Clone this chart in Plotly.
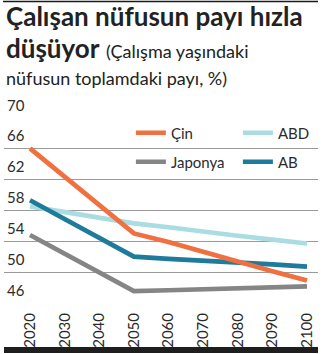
import plotly.graph_objects as go

# Share of working-age population in total population (%)
years = [2020, 2050, 2060, 2070, 2080, 2090, 2100]
cin = [66.0, 55.0, 53.9, 52.6, 51.35, 50.1, 48.9]
abd = [58.5, 56.3, 55.8, 55.2, 54.7, 54.2, 53.7]
japonya = [54.8, 47.55, 47.65, 47.75, 47.9, 48.0, 48.15]
ab = [59.3, 52.0, 51.7, 51.5, 51.2, 51.0, 50.7]

x_ticks = [2020, 2030, 2040, 2050, 2060, 2070, 2080, 2090, 2100]
y_ticks = [46, 50, 54, 58, 62, 66, 70]

W, H = 324, 354
FONT = "Lato"
TXT = "#2b2b2b"

series = [
    ("Japonya", japonya, "#858585", "legend2"),
    ("ABD", abd, "#a9dde2", "legend"),
    ("AB", ab, "#1f7b9b", "legend2"),
    ("Çin", cin, "#f0703f", "legend"),
]

fig = go.Figure()
for name, vals, color, leg in series:
    fig.add_trace(go.Scatter(
        x=years, y=vals, name=name, mode="lines",
        line=dict(color=color, width=4.7),
        legend=leg,
    ))

# y tick labels sit above their gridlines at the left edge
annotations = [
    dict(x=0.014, xref="paper", y=v, yref="y", text=str(v), showarrow=False,
         xanchor="left", yanchor="bottom", yshift=2,
         font=dict(family=FONT, size=15, color=TXT))
    for v in y_ticks
]

# title block
annotations += [
    dict(x=0.012, y=1 - 34 / H, xref="paper", yref="paper", xanchor="left",
         yanchor="bottom", showarrow=False,
         text="<b>Çalışan nüfusun payı hızla</b>",
         font=dict(family=FONT, size=26, color="#222222")),
    dict(x=0.012, y=1 - 66 / H, xref="paper", yref="paper", xanchor="left",
         yanchor="bottom", showarrow=False,
         text="<b>düşüyor</b> <span style='font-size:18px'>(Çalışma yaşındaki</span>",
         font=dict(family=FONT, size=26, color="#222222")),
    dict(x=0.012, y=1 - 91 / H, xref="paper", yref="paper", xanchor="left",
         yanchor="bottom", showarrow=False,
         text="nüfusun toplamdaki payı, %)",
         font=dict(family=FONT, size=18, color="#222222")),
]

shapes = [
    # rule across the top
    dict(type="line", xref="paper", yref="paper", x0=3 / W, x1=318 / W,
         y0=1 - 1.5 / H, y1=1 - 1.5 / H, line=dict(color="#1a1a1a", width=1.3)),
    # dark band at the bottom
    dict(type="rect", xref="paper", yref="paper", x0=4 / W, x1=318 / W,
         y0=1 / H, y1=7 / H, fillcolor="#1e1e1e", line=dict(width=0)),
]

legend_common = dict(
    orientation="h", xanchor="left", yanchor="middle",
    entrywidth=62, entrywidthmode="pixels",
    font=dict(family=FONT, size=15, color=TXT),
    bgcolor="rgba(0,0,0,0)", itemclick=False, itemdoubleclick=False,
)

fig.update_layout(
    width=W, height=H,
    margin=dict(l=0, r=0, t=0, b=0, autoexpand=False),
    paper_bgcolor="white", plot_bgcolor="white",
    xaxis=dict(
        domain=[4 / W, 318 / W], range=[2012.49, 2103.18],
        tickmode="array", tickvals=x_ticks, ticktext=[str(t) for t in x_ticks],
        tickangle=-90, showgrid=False, zeroline=False, showline=False,
        ticks="", ticklabelstandoff=6,
        tickfont=dict(family=FONT, size=15, color=TXT),
    ),
    yaxis=dict(
        domain=[1 - 303 / H, 1 - 117.5 / H], range=[46, 70],
        tickmode="array", tickvals=y_ticks, showticklabels=False,
        showgrid=True, gridcolor="#9a9a9a", gridwidth=1,
        zeroline=False, showline=False, ticks="",
    ),
    legend=dict(x=0.404, y=1 - 133 / H, traceorder="reversed", **legend_common),
    legend2=dict(x=0.404, y=1 - 162 / H, traceorder="normal", **legend_common),
    annotations=annotations,
    shapes=shapes,
    showlegend=True,
)

fig.write_html("out.html")
